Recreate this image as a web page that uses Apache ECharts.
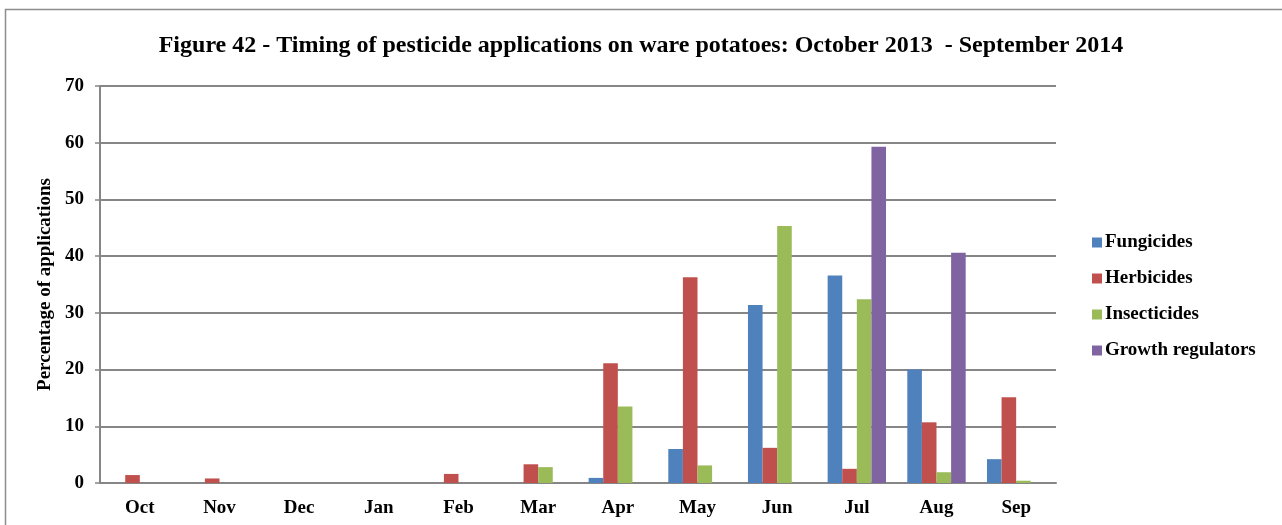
<!DOCTYPE html>
<html>
<head>
<meta charset="utf-8">
<script src="https://cdn.jsdelivr.net/npm/echarts@6/dist/echarts.min.js"></script>
<style>
  html, body { margin: 0; padding: 0; background: #fff; }
  #chart { width: 1282px; height: 525px; }
</style>
</head>
<body>
<div id="chart"></div>
<script>
var months = ["Oct", "Nov", "Dec", "Jan", "Feb", "Mar", "Apr", "May", "Jun", "Jul", "Aug", "Sep"];
var fungicides   = [0, 0, 0, 0, 0, 0, 0.9, 6.0, 31.4, 36.6, 20.0, 4.2];
var herbicides   = [1.4, 0.8, 0, 0, 1.6, 3.3, 21.1, 36.3, 6.2, 2.5, 10.7, 15.1];
var insecticides = [0, 0, 0, 0, 0, 2.8, 13.5, 3.1, 45.3, 32.4, 1.9, 0.4];
var growthRegs   = [0, 0, 0, 0, 0, 0, 0, 0, 0, 59.3, 40.6, 0];
var yTicks = [0, 10, 20, 30, 40, 50, 60, 70];

var serif = "'Liberation Serif', 'Times New Roman', serif";
var gray = "#868686";

var chart = echarts.init(document.getElementById("chart"));

function bar(name, data, colour) {
  return {
    name: name,
    type: "bar",
    data: data,
    barGap: "0%",
    barCategoryGap: "26.7%",
    itemStyle: { color: colour },
    animation: false
  };
}

var option = {
  backgroundColor: "#fff",
  graphic: [{
    type: "rect",
    shape: { x: 5.5, y: 9.5, width: 1400, height: 700 },
    style: { fill: "none", stroke: "#8c8c8c", lineWidth: 1.5 },
    silent: true
  }],
  title: {
    text: "Figure 42 - Timing of pesticide applications on ware potatoes: October 2013  - September 2014",
    left: "center",
    top: 29,
    textStyle: { fontFamily: serif, fontWeight: "bold", fontSize: 24, color: "#000" }
  },
  legend: {
    orient: "vertical",
    left: 1087,
    top: 228,
    itemWidth: 10,
    itemHeight: 10,
    itemGap: 17,
    icon: "rect",
    textStyle: { fontFamily: serif, fontWeight: "bold", fontSize: 19, color: "#000", padding: [0, 0, 0, -2] },
    data: ["Fungicides", "Herbicides", "Insecticides", "Growth regulators"]
  },
  grid: { left: 100, right: 226, top: 86, bottom: 42 },
  xAxis: {
    type: "category",
    data: months,
    axisLine: { lineStyle: { color: gray, width: 2 } },
    axisTick: { show: false },
    axisLabel: { margin: 16, fontFamily: serif, fontWeight: "bold", fontSize: 19, color: "#000" }
  },
  yAxis: {
    type: "value",
    min: yTicks[0],
    max: yTicks[yTicks.length - 1],
    interval: 10,
    name: "Percentage of applications",
    nameLocation: "middle",
    nameGap: 42,
    nameTextStyle: { fontFamily: serif, fontWeight: "bold", fontSize: 19, color: "#000" },
    axisLine: { show: true, lineStyle: { color: gray, width: 2 } },
    axisTick: { show: true, length: 5, lineStyle: { color: gray, width: 1.5 } },
    axisLabel: { margin: 16, fontFamily: serif, fontWeight: "bold", fontSize: 19, color: "#000" },
    splitLine: { lineStyle: { color: gray, width: 2 } }
  },
  series: [
    bar("Fungicides", fungicides, "#4F81BD"),
    bar("Herbicides", herbicides, "#C0504D"),
    bar("Insecticides", insecticides, "#9BBB59"),
    bar("Growth regulators", growthRegs, "#8064A2")
  ]
};

chart.setOption(option);
</script>
</body>
</html>
